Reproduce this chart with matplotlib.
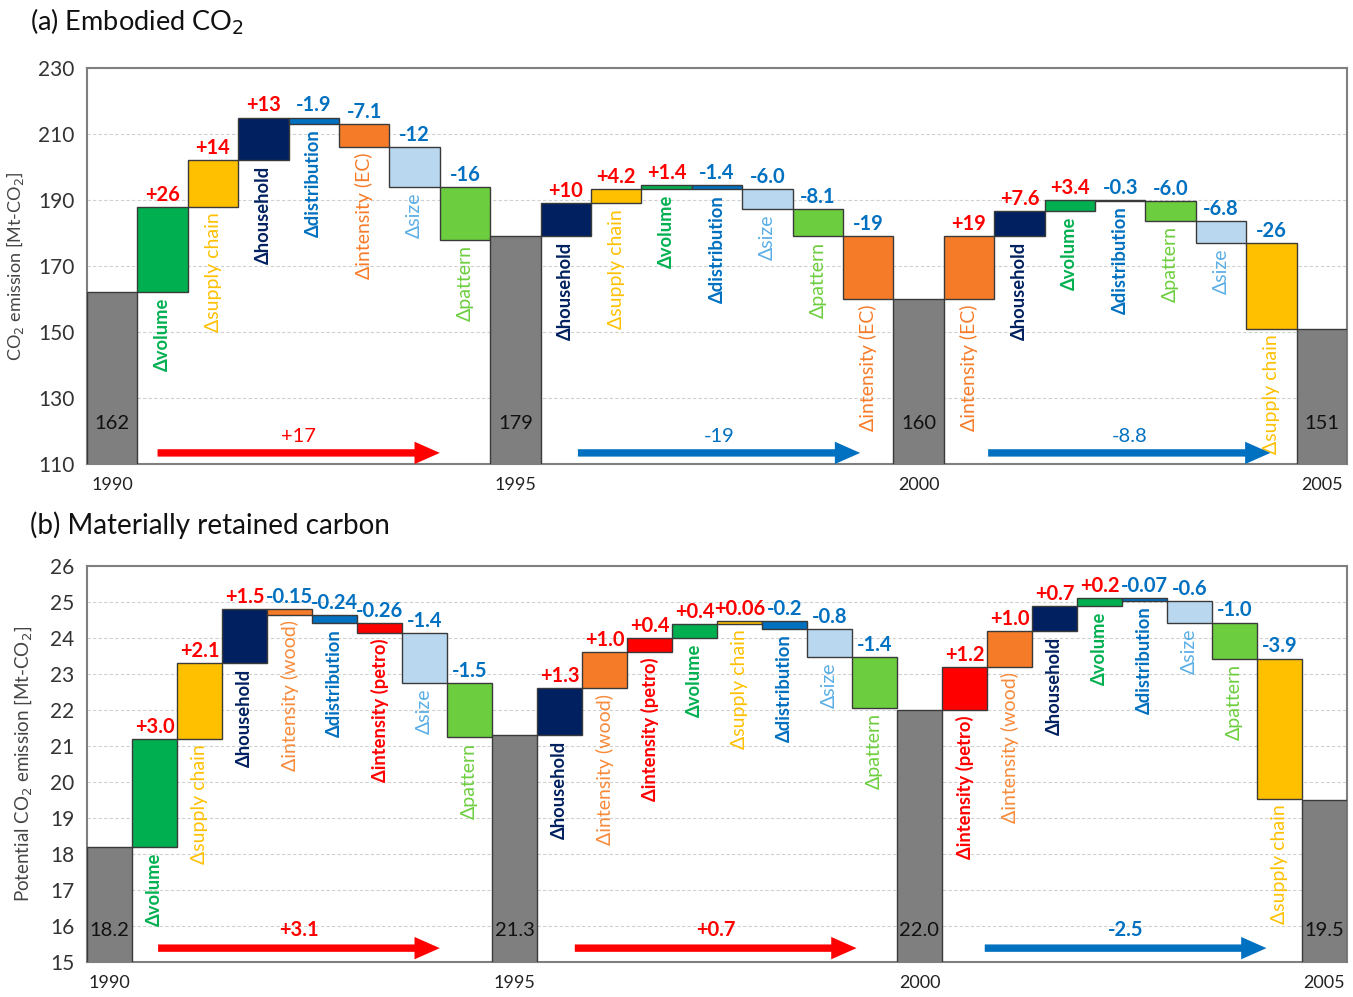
import matplotlib
matplotlib.use('Agg')
import matplotlib.pyplot as plt
from matplotlib.transforms import blended_transform_factory

plt.rcParams['font.family'] = ['Lato', 'DejaVu Sans']

# ---------------- Data: panel (a) Embodied CO2 ----------------
a_years = ['1990', '1995', '2000', '2005']
a_totals = [162, 179, 160, 151]
a_total_labels = ['162', '179', '160', '151']
a_factors = [
    ['volume', 'supply chain', 'household', 'distribution', 'intensity (EC)', 'size', 'pattern'],
    ['household', 'supply chain', 'volume', 'distribution', 'size', 'pattern', 'intensity (EC)'],
    ['intensity (EC)', 'household', 'volume', 'distribution', 'pattern', 'size', 'supply chain'],
]
a_values = [
    [26, 14, 13, -1.9, -7.1, -12, -16],
    [10, 4.2, 1.4, -1.4, -6.0, -8.1, -19],
    [19, 7.6, 3.4, -0.3, -6.0, -6.8, -26],
]
a_value_labels = [
    ['+26', '+14', '+13', '-1.9', '-7.1', '-12', '-16'],
    ['+10', '+4.2', '+1.4', '-1.4', '-6.0', '-8.1', '-19'],
    ['+19', '+7.6', '+3.4', '-0.3', '-6.0', '-6.8', '-26'],
]
a_period_change = [17, -19, -8.8]
a_period_labels = ['+17', '-19', '-8.8']
a_yticks = [110, 130, 150, 170, 190, 210, 230]

# ---------------- Data: panel (b) Materially retained carbon ----------------
b_years = ['1990', '1995', '2000', '2005']
b_totals = [18.2, 21.3, 22.0, 19.5]
b_total_labels = ['18.2', '21.3', '22.0', '19.5']
b_factors = [
    ['volume', 'supply chain', 'household', 'intensity (wood)', 'distribution', 'intensity (petro)', 'size', 'pattern'],
    ['household', 'intensity (wood)', 'intensity (petro)', 'volume', 'supply chain', 'distribution', 'size', 'pattern'],
    ['intensity (petro)', 'intensity (wood)', 'household', 'volume', 'distribution', 'size', 'pattern', 'supply chain'],
]
b_values = [
    [3.0, 2.1, 1.5, -0.15, -0.24, -0.26, -1.4, -1.5],
    [1.3, 1.0, 0.4, 0.4, 0.06, -0.2, -0.8, -1.4],
    [1.2, 1.0, 0.7, 0.2, -0.07, -0.6, -1.0, -3.9],
]
b_value_labels = [
    ['+3.0', '+2.1', '+1.5', '-0.15', '-0.24', '-0.26', '-1.4', '-1.5'],
    ['+1.3', '+1.0', '+0.4', '+0.4', '+0.06', '-0.2', '-0.8', '-1.4'],
    ['+1.2', '+1.0', '+0.7', '+0.2', '-0.07', '-0.6', '-1.0', '-3.9'],
]
b_period_change = [3.1, 0.7, -2.5]
b_period_labels = ['+3.1', '+0.7', '-2.5']
b_yticks = list(range(15, 27))

# ---------------- Styles ----------------
BAR_COLOR = {
    'volume': '#00B050', 'supply chain': '#FFC000', 'household': '#002060',
    'distribution': '#0070C0', 'intensity (EC)': '#F67B28', 'intensity (wood)': '#F67B28',
    'intensity (petro)': '#FF0000', 'size': '#B9D8F0', 'pattern': '#6CCE3E',
}
TEXT_COLOR = dict(BAR_COLOR)
TEXT_COLOR['size'] = '#5AAEE6'
TEXT_COLOR['intensity (wood)'] = '#F88A3A'
BOLD = {'volume', 'household', 'distribution', 'intensity (petro)'}
POS_COL = '#FF0000'
NEG_COL = '#0070C0'
GRAY = '#7F7F7F'
EDGE = '#3A3A3A'

fig = plt.figure(figsize=(13.53, 9.97), dpi=100)
ax_a = fig.add_axes([87 / 1353, 1 - 464 / 997, 1260 / 1353, 396 / 997])
ax_b = fig.add_axes([87 / 1353, 1 - 962 / 997, 1260 / 1353, 396 / 997])


def draw_panel(ax, years, totals, total_labels, factors, values, vlabels,
               changes, change_labels, yticks, half_arrow, arrow_shift, arrow_y, change_y,
               total_y, bold_change):
    ymin, ymax = yticks[0], yticks[-1]
    ax.set_ylim(ymin, ymax)
    n_bars = len(totals) + sum(len(f) for f in factors)
    ax.set_xlim(0, n_bars)
    trans = blended_transform_factory(ax.transData, ax.transAxes)
    x = 0
    xt = []
    for s in range(len(totals)):
        ax.bar(x, totals[s], width=1, align='edge', color=GRAY, edgecolor=EDGE, lw=1.0, zorder=3)
        ax.text(x + 0.5, total_y, total_labels[s], transform=trans, ha='center', va='center',
                fontsize=14.5, color='#111111', zorder=5)
        xt.append(x + 0.5)
        x += 1
        if s >= len(factors):
            break
        level = totals[s]
        seg_start = x
        for f, v, lab in zip(factors[s], values[s], vlabels[s]):
            ax.bar(x, v, bottom=level, width=1, align='edge', color=BAR_COLOR[f],
                   edgecolor=EDGE, lw=1.0, zorder=3)
            top = max(level, level + v)
            bot = min(level, level + v)
            ax.annotate(lab, (x + 0.5, top), xytext=(0, 1.5), textcoords='offset points',
                        ha='center', va='bottom', fontsize=14.5, fontweight='bold',
                        color=POS_COL if v > 0 else NEG_COL, zorder=5)
            isb = f in BOLD
            ax.annotate('\u0394' + f, (x + 0.5, bot), xytext=(0, -4), textcoords='offset points',
                        ha='center', va='top', rotation=90, fontsize=13.2 if isb else 14,
                        fontweight='bold' if isb else 'normal',
                        color=TEXT_COLOR[f], zorder=5)
            level += v
            x += 1
        seg_end = x
        c = (seg_start + seg_end) / 2 + arrow_shift[s]
        col = POS_COL if changes[s] > 0 else NEG_COL
        ax.annotate('', xy=(c + half_arrow, arrow_y), xytext=(c - half_arrow, arrow_y),
                    xycoords=trans, textcoords=trans,
                    arrowprops=dict(arrowstyle='simple,head_width=1.15,head_length=1.3,tail_width=0.38',
                                    mutation_scale=14, color=col, lw=0, shrinkA=0, shrinkB=0),
                    zorder=5)
        ax.text(c, change_y, change_labels[s], transform=trans, ha='center', va='center',
                fontsize=14.5, color=col, fontweight='bold' if bold_change else 'normal', zorder=5)
    ax.set_xticks(xt)
    ax.set_xticklabels(years, fontsize=13, color='#222222')
    ax.set_yticks(yticks)
    ax.set_yticklabels([str(t) for t in yticks], fontsize=15, color='#333333')
    ax.tick_params(length=0, pad=9)
    ax.tick_params(axis='x', pad=9)
    ax.yaxis.grid(True, color='#D0D0D0', ls=(0, (3, 2)), lw=0.8, zorder=0)
    ax.set_axisbelow(True)
    for sp in ax.spines.values():
        sp.set_color('#7F7F7F')
        sp.set_linewidth(1.5)


draw_panel(ax_a, a_years, a_totals, a_total_labels, a_factors, a_values, a_value_labels,
           a_period_change, a_period_labels, a_yticks, 2.8, [-0.3, 0.04, 0.18],
           0.028, 0.07, 0.103, False)
draw_panel(ax_b, b_years, b_totals, b_total_labels, b_factors, b_values, b_value_labels,
           b_period_change, b_period_labels, b_yticks, 3.13, [-0.29, -0.03, 0.08],
           0.035, 0.08, 0.08, True)

ax_a.set_ylabel('CO$_2$ emission [Mt-CO$_2$]', fontsize=13, color='#444444', labelpad=9)
ax_b.set_ylabel('Potential CO$_2$ emission [Mt-CO$_2$]', fontsize=13.5, color='#444444', labelpad=12)

fig.text(30 / 1353, 1 - 22 / 997, '(a) Embodied CO$_2$', fontsize=19.5, va='center', ha='left', color='#111111')
fig.text(30 / 1353, 1 - 525 / 997, '(b) Materially retained carbon', fontsize=20, va='center', ha='left',
         color='#111111')

fig.savefig('out.png', dpi=100)
